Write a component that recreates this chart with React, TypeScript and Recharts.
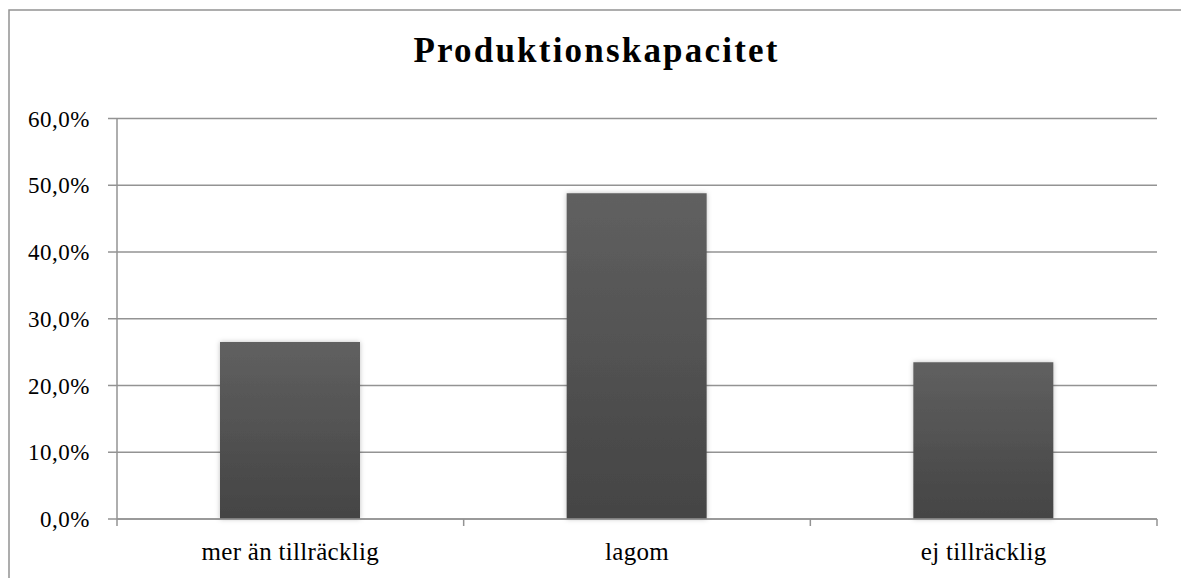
import { Bar, BarChart, CartesianGrid, XAxis, YAxis } from "recharts";

// chart values
const CATEGORIES = ["mer än tillräcklig", "lagom", "ej tillräcklig"];
const SHARE = [26.5, 48.8, 23.5];
const Y_TICKS = [0, 10, 20, 30, 40, 50, 60];
const TITLE = "Produktionskapacitet";

const rows = CATEGORIES.map((c, i) => ({ name: c, share: SHARE[i] }));

const W = 1181;
const H = 578;
const M = { top: 118.5, right: 24, bottom: 29, left: 0 };
const Y_W = 117;
const X_H = 30;
const PLOT_W = W - M.left - M.right - Y_W;

const FONT = "'Liberation Serif', 'Times New Roman', serif";
const LINE = "#939393";

const pct = (v: number) => v.toFixed(1).replace(".", ",") + "%";

function CatTick(props: any) {
  const { x, y, payload, index } = props;
  const half = PLOT_W / CATEGORIES.length / 2;
  return (
    <g>
      <line x1={x - half} x2={x - half} y1={y} y2={y + 7} stroke={LINE} strokeWidth={1.5} />
      {index === CATEGORIES.length - 1 && (
        <line x1={x + half} x2={x + half} y1={y} y2={y + 7} stroke={LINE} strokeWidth={1.5} />
      )}
      <text
        x={x}
        y={y + 41}
        textAnchor="middle"
        fontFamily={FONT}
        fontSize={25}
        letterSpacing={0.3}
        fill="#000"
      >
        {payload.value}
      </text>
    </g>
  );
}

export default function App() {
  return (
    <div style={{ position: "absolute", left: 0, top: 0, width: W, height: H, background: "#fff" }}>
      <BarChart width={W} height={H} data={rows} margin={M}>
        <defs>
          <linearGradient id="barFill" x1="0" y1="0" x2="0" y2="1">
            <stop offset="0%" stopColor="#606060" />
            <stop offset="100%" stopColor="#444444" />
          </linearGradient>
          <filter id="barShadow" x="-10%" y="-10%" width="120%" height="120%">
            <feDropShadow dx="0" dy="0" stdDeviation="2.5" floodColor="#000" floodOpacity="0.25" />
          </filter>
        </defs>
        <CartesianGrid stroke={LINE} strokeWidth={1.5} vertical={false} />
        <XAxis
          dataKey="name"
          height={X_H}
          tickLine={false}
          tickSize={0}
          tickMargin={0}
          axisLine={{ stroke: LINE, strokeWidth: 1.5 }}
          tick={<CatTick />}
          interval={0}
        />
        <YAxis
          width={Y_W}
          domain={[0, 60]}
          ticks={Y_TICKS}
          tickFormatter={pct}
          tickSize={9}
          tickMargin={18}
          tickLine={{ stroke: LINE, strokeWidth: 1.5 }}
          axisLine={{ stroke: LINE, strokeWidth: 1.5 }}
          tick={{ fontFamily: FONT, fontSize: 23, fill: "#000", letterSpacing: 0.5 }}
        />
        <Bar
          dataKey="share"
          barSize={140}
          fill="url(#barFill)"
          filter="url(#barShadow)"
          isAnimationActive={false}
        />
      </BarChart>
      <svg
        width={W}
        height={H}
        style={{ position: "absolute", left: 0, top: 0, pointerEvents: "none" }}
      >
        <rect x={9} y={10} width={W + 20} height={H + 20} fill="none" stroke={LINE} strokeWidth={1.5} />
        <text
          x={596.5}
          y={62}
          textAnchor="middle"
          fontFamily={FONT}
          fontWeight="bold"
          fontSize={35}
          letterSpacing={2.2}
          fill="#000"
        >
          {TITLE}
        </text>
      </svg>
    </div>
  );
}
